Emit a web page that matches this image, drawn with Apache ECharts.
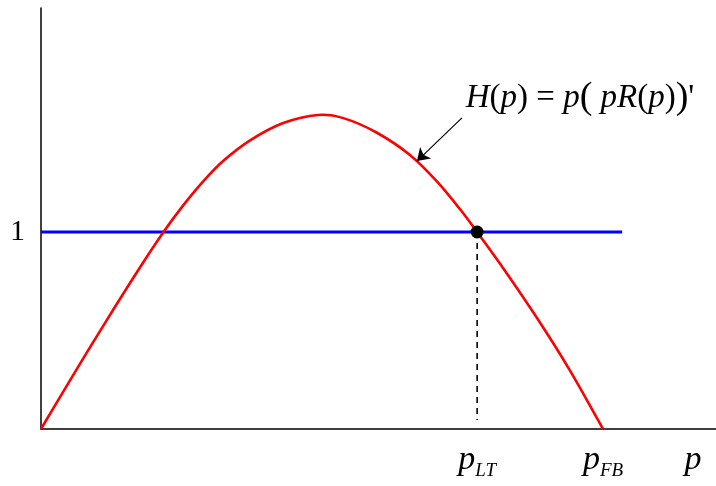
<!DOCTYPE html>
<html>
<head>
<meta charset="utf-8">
<script src="https://cdn.jsdelivr.net/npm/echarts@6/dist/echarts.min.js"></script>
<style>html,body{margin:0;padding:0;background:#fff;}#c{width:716px;height:486px;}</style>
</head>
<body>
<div id="c"></div>
<script>
// H(p) curve (p scaled so p_FB = 1)
const hX = [0, 0.0575, 0.117, 0.176, 0.218, 0.253, 0.289, 0.324, 0.372, 0.431, 0.493, 0.538, 0.597, 0.657, 0.704, 0.746, 0.776, 0.823, 0.882, 0.941, 1.0];
const hY = [0, 0.275, 0.553, 0.820, 1.0, 1.135, 1.258, 1.360, 1.465, 1.553, 1.594, 1.578, 1.505, 1.390, 1.258, 1.114, 1.0, 0.814, 0.566, 0.298, 0];
// horizontal line at 1
const oneX = [0, 1.034];
const oneY = [1, 1];
// key points
const pLT = 0.776;
const pFB = 1.0;
const pLabelPos = 1.16;
const xTickValues = [pLT, pFB, pLabelPos];
const xTickNames = ['LT', 'FB', ''];
const yTickValues = [1];
const yTickLabels = ['1'];
const dashX = [pLT, pLT];
const dashY = [1, 0.046];
const arrowFrom = [0.749, 1.579];
const arrowTo = [0.669, 1.36];
const formulaPos = [0.959, 1.68];
const xMax = 1.201, yMax = 2.137;

const serif = 'Liberation Serif';

// smooth path through points (chord-length parametrised cubic Hermite)
function smoothPath(pts) {
  const n = pts.length;
  const t = [0];
  for (let i = 1; i < n; i++) {
    t.push(t[i - 1] + Math.hypot(pts[i][0] - pts[i - 1][0], pts[i][1] - pts[i - 1][1]));
  }
  const m = pts.map(function (p, i) {
    const a = i === 0 ? 0 : i - 1, b = i === n - 1 ? n - 1 : i + 1;
    const dt = t[b] - t[a];
    return [(pts[b][0] - pts[a][0]) / dt, (pts[b][1] - pts[a][1]) / dt];
  });
  let d = 'M' + pts[0][0] + ' ' + pts[0][1];
  for (let i = 0; i < n - 1; i++) {
    const h = (t[i + 1] - t[i]) / 3;
    d += ' C' + (pts[i][0] + m[i][0] * h) + ' ' + (pts[i][1] + m[i][1] * h) + ' ' +
      (pts[i + 1][0] - m[i + 1][0] * h) + ' ' + (pts[i + 1][1] - m[i + 1][1] * h) + ' ' +
      pts[i + 1][0] + ' ' + pts[i + 1][1];
  }
  return d;
}

const chart = echarts.init(document.getElementById('c'));
chart.setOption({
  animation: false,
  backgroundColor: '#fff',
  grid: {left: 41, right: 0, top: 8, bottom: 57},
  xAxis: {
    type: 'value', min: 0, max: xMax,
    splitLine: {show: false},
    axisTick: {show: false},
    axisLine: {lineStyle: {color: '#000', width: 1.5}},
    axisLabel: {
      customValues: xTickValues,
      margin: 12,
      fontFamily: serif,
      formatter: function (v) {
        let idx = 0, best = 1e9;
        xTickValues.forEach(function (t, i) { if (Math.abs(t - v) < best) { best = Math.abs(t - v); idx = i; } });
        const s = xTickNames[idx];
        return s ? '{p|p}{s|' + s + '}' : '{p|p}';
      },
      rich: {
        p: {fontFamily: serif, fontStyle: 'italic', fontSize: 34, color: '#000', lineHeight: 36, verticalAlign: 'bottom'},
        s: {fontFamily: serif, fontStyle: 'italic', fontSize: 19, color: '#000', verticalAlign: 'bottom', padding: [0, 0, -3, 0]}
      }
    }
  },
  yAxis: {
    type: 'value', min: 0, max: yMax,
    splitLine: {show: false},
    axisTick: {show: false},
    axisLine: {lineStyle: {color: '#000', width: 1.5}},
    axisLabel: {
      customValues: yTickValues,
      margin: 16,
      formatter: function (v) { return yTickLabels[yTickValues.indexOf(v)] || String(v); },
      fontFamily: serif, fontSize: 30, color: '#000'
    }
  },
  series: [
    {
      type: 'line', data: oneX.map(function (x, i) { return [x, oneY[i]]; }),
      showSymbol: false, lineStyle: {color: '#0000ff', width: 3}, z: 2
    },
    {
      type: 'custom', z: 3, silent: true,
      data: hX.map(function (x, i) { return [x, hY[i]]; }),
      renderItem: function (params, api) {
        if (params.dataIndex !== 0) return null;
        const pts = hX.map(function (x, i) { return api.coord([x, hY[i]]); });
        return {
          type: 'path',
          shape: {pathData: smoothPath(pts)},
          style: {fill: null, stroke: '#ff0000', lineWidth: 2.6, lineJoin: 'round'}
        };
      }
    },
    {
      type: 'line', data: dashX.map(function (x, i) { return [x, dashY[i]]; }),
      showSymbol: false, lineStyle: {color: '#000', width: 1.6, type: [6, 5]}, z: 2
    },
    {
      type: 'scatter', data: [[pLT, 1]], symbolSize: 13,
      itemStyle: {color: '#000', opacity: 1}, z: 5
    },
    {
      type: 'lines', coordinateSystem: 'cartesian2d',
      data: [{coords: [arrowFrom, arrowTo]}],
      symbol: ['none', 'arrow'], symbolSize: [9, 12],
      lineStyle: {color: '#000', width: 1.2, opacity: 1, curveness: 0}, z: 4
    },
    {
      type: 'scatter', data: [formulaPos], symbolSize: 0, silent: true,
      itemStyle: {opacity: 1, color: '#000'},
      label: {
        show: true, position: 'inside', align: 'center', verticalAlign: 'middle',
        fontFamily: serif, color: '#000', opacity: 1, textBorderWidth: 0,
        formatter: "{i|H}{n|(}{i|p}{n|) = }{i|p}{b|(}{i| pR}{n|(}{i|p}{n|)}{b|)}{n|'}",
        rich: {
          i: {fontFamily: serif, fontStyle: 'italic', fontSize: 33, color: '#000', textBorderWidth: 0},
          n: {fontFamily: serif, fontSize: 33, color: '#000', textBorderWidth: 0},
          b: {fontFamily: serif, fontSize: 38, color: '#000', textBorderWidth: 0}
        }
      }
    }
  ]
});
</script>
</body>
</html>
